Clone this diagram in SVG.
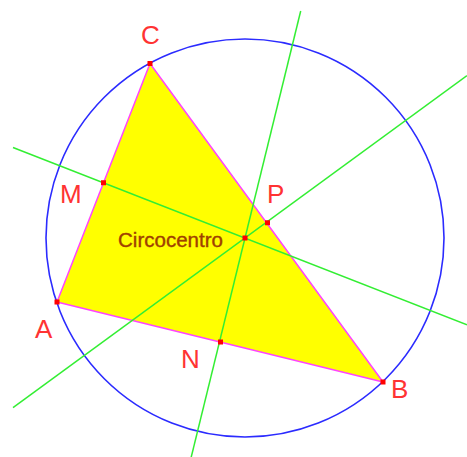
<svg xmlns="http://www.w3.org/2000/svg" width="467" height="457" viewBox="0 0 467 457">
<style>
.lbl{font-family:"Liberation Sans",Arial,sans-serif;font-size:26px;fill:#ff3333}
.pt{fill:#ff0000}
.bis{stroke:#33ee33;stroke-width:1.5;fill:none}
.edge{stroke:#ff44ff;stroke-width:1.5;fill:none}
</style>
<rect width="467" height="457" fill="#ffffff"/>
<polygon id="triangle" points="57,302 383,382 150,63.5" fill="#ffff00"/>
<circle id="circumcircle" cx="245" cy="238" r="199" fill="none" stroke="#2b2bff" stroke-width="1.6"/>
<g id="connectors">
  <line class="edge" x1="57" y1="302" x2="383" y2="382"/>
  <line class="edge" x1="383" y1="382" x2="150" y2="63.5"/>
  <line class="edge" x1="150" y1="63.5" x2="57" y2="302"/>
  <line class="bis" x1="13" y1="147.5" x2="467" y2="324.7"/>
  <line class="bis" x1="13" y1="407.7" x2="467" y2="75.6"/>
  <line class="bis" x1="300.7" y1="11" x2="191" y2="458"/>
</g>
<g id="A"><rect class="pt" x="54.5" y="299.5" width="5" height="5"/><text class="lbl" x="35" y="338">A</text></g>
<g id="B"><rect class="pt" x="380.5" y="379.5" width="5" height="5"/><text class="lbl" x="391" y="398">B</text></g>
<g id="C"><rect class="pt" x="147.5" y="61" width="5" height="5"/><text class="lbl" x="141" y="44">C</text></g>
<g id="M"><rect class="pt" x="101" y="180.25" width="5" height="5"/><text class="lbl" x="60" y="203">M</text></g>
<g id="P"><rect class="pt" x="265" y="220.25" width="5" height="5"/><text class="lbl" x="267" y="203">P</text></g>
<g id="N"><rect class="pt" x="218" y="339.5" width="5" height="5"/><text class="lbl" x="181" y="368">N</text></g>
<g id="O"><rect class="pt" x="242.5" y="235.5" width="5" height="5"/><text x="118" y="247" font-family="Liberation Sans,Arial,sans-serif" font-size="19.5" fill="#a04000" stroke="#a04000" stroke-width="0.35" textLength="105" lengthAdjust="spacingAndGlyphs">Circocentro</text></g>
</svg>
